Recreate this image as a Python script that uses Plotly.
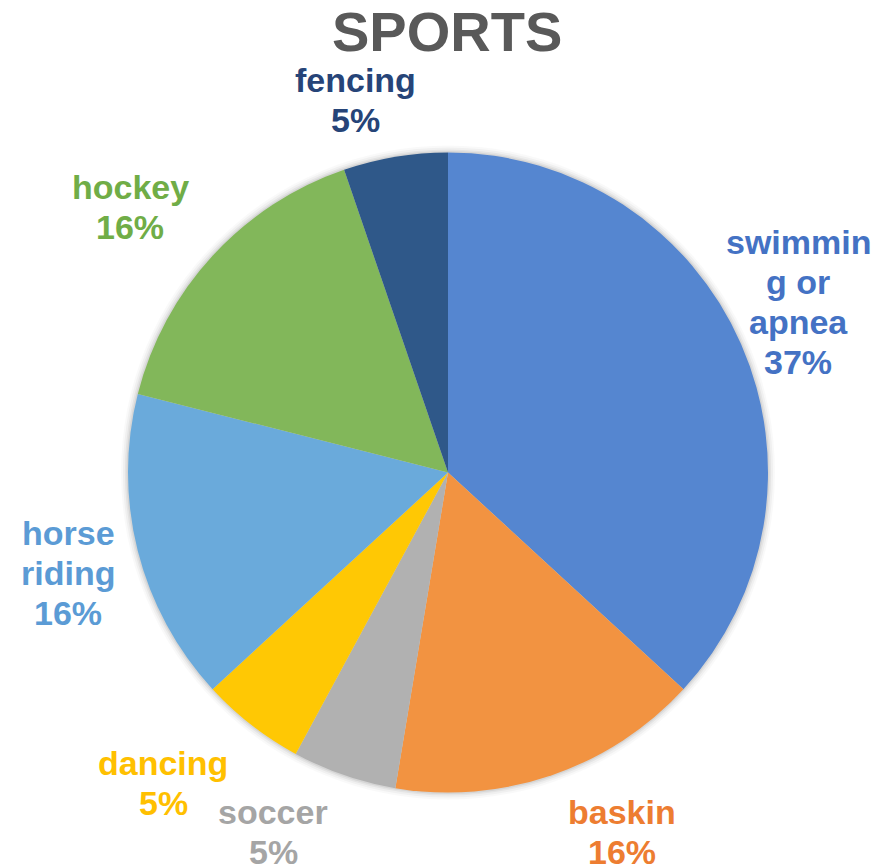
import plotly.graph_objects as go

# ---- data ----
categories = ["swimming or apnea", "baskin", "soccer", "dancing", "horse riding", "hockey", "fencing"]
display_lines = [["swimmin", "g or", "apnea"], ["baskin"], ["soccer"], ["dancing"],
                 ["horse", "riding"], ["hockey"], ["fencing"]]
counts = [7, 3, 1, 1, 3, 3, 1]
title_text = "SPORTS"

# ---- style ----
slice_colors = ["#5586D0", "#F29341", "#B1B1B1", "#FFC804", "#6AAADB", "#82B75A", "#2F5889"]
label_colors = ["#4472C4", "#ED7D31", "#A5A5A5", "#FFC000", "#5B9BD5", "#70AD47", "#264478"]
# label block: (centre x, y of first line) in window pixels
label_px = [(798, 242), (622, 812), (273, 812), (163, 763), (68, 533), (130, 187), (355, 80)]
LINE_GAP = 40
OFF = 8  # page body margin

W, H = 876, 860
cx, cy, R = 448 - OFF, 472.5 - OFF, 320


def dom(r):
    return dict(x=[(cx - r) / W, (cx + r) / W], y=[1 - (cy + r) / H, 1 - (cy - r) / H])


def px2paper(x, y):
    return (x - OFF) / W, 1 - (y - OFF) / H


fig = go.Figure()

# soft shadow rings behind the pie
for i, extra in enumerate([7, 5, 3, 1.5]):
    fig.add_trace(go.Pie(values=[1], labels=["shadow"], domain=dom(R + extra),
                         marker=dict(colors=["rgba(0,0,0,%.3f)" % (0.025 + 0.012 * i)]),
                         textinfo="none", hoverinfo="skip", showlegend=False, sort=False))

fig.add_trace(go.Pie(
    labels=categories,
    values=counts,
    sort=False,
    direction="clockwise",
    rotation=0,
    domain=dom(R),
    marker=dict(colors=slice_colors, line=dict(width=0)),
    textinfo="none",
    showlegend=False,
))

FONT = "Liberation Sans, Arial, sans-serif"
total = sum(counts)
annotations = []
for lines, v, col, (px, py) in zip(display_lines, counts, label_colors, label_px):
    pct = round(v / total * 100)
    for k, line in enumerate(lines + ["%d%%" % pct]):
        x, y = px2paper(px, py + k * LINE_GAP)
        annotations.append(dict(
            x=x, y=y, xref="paper", yref="paper",
            xanchor="center", yanchor="middle", align="center",
            text="<b>%s</b>" % line, showarrow=False,
            font=dict(family=FONT, size=34, color=col),
        ))

tx, ty = px2paper(447, 31)
annotations.append(dict(
    x=tx, y=ty, xref="paper", yref="paper",
    xanchor="center", yanchor="middle", text="<b>%s</b>" % title_text, showarrow=False,
    font=dict(family=FONT, size=56, color="#595959"),
))

fig.update_layout(
    width=W, height=H,
    margin=dict(l=0, r=0, t=0, b=0),
    paper_bgcolor="white", plot_bgcolor="white",
    annotations=annotations,
)

fig.write_html("out.html")
